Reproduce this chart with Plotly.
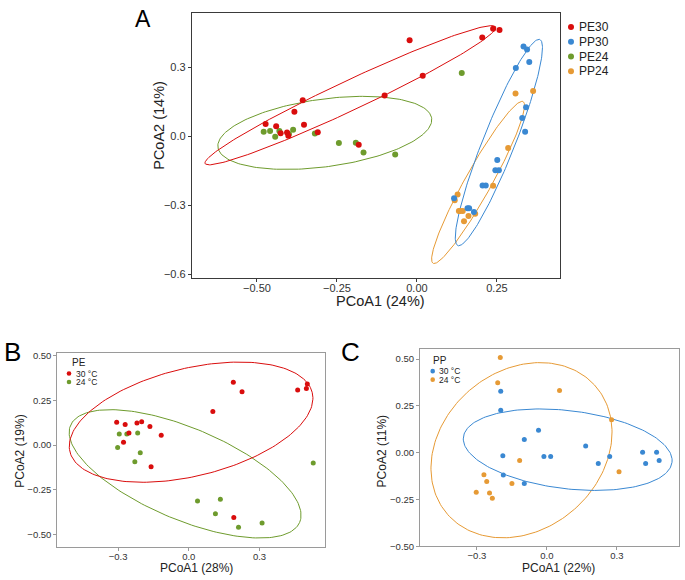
import numpy as np
import plotly.graph_objects as go

W, H = 685, 580
FONT = "Liberation Sans, Arial, sans-serif"

# ---------------- data ----------------
# Panel A
a_groups = ["PE30", "PP30", "PE24", "PP24"]
a_pe30_x = [-0.473, -0.440, -0.426, -0.406, -0.402, -0.383, -0.357, -0.353, -0.310, -0.182, -0.101, -0.023, 0.018, 0.204, 0.238, 0.258]
a_pe30_y = [0.054, 0.044, 0.014, 0.017, 0.003, 0.107, 0.157, 0.051, 0.018, -0.036, 0.178, 0.418, 0.264, 0.430, 0.468, 0.463]
a_pe24_x = [-0.479, -0.459, -0.443, -0.430, -0.400, -0.387, -0.319, -0.244, -0.191, -0.167, -0.068, 0.140]
a_pe24_y = [0.020, 0.024, -0.001, 0.024, 0.010, 0.029, 0.013, -0.029, -0.027, -0.070, -0.079, 0.276]
a_pp30_x = [0.333, 0.344, 0.351, 0.309, 0.341, 0.329, 0.338, 0.251, 0.245, 0.256, 0.205, 0.215, 0.116, 0.158, 0.163, 0.178]
a_pp30_y = [0.391, 0.378, 0.323, 0.297, 0.127, 0.080, 0.020, -0.103, -0.147, -0.147, -0.213, -0.213, -0.269, -0.312, -0.312, -0.329]
a_pp24_x = [0.308, 0.363, 0.285, 0.238, 0.127, 0.118, 0.131, 0.135, 0.143, 0.161, 0.182, 0.147]
a_pp24_y = [0.187, 0.197, -0.050, -0.214, -0.252, -0.277, -0.324, -0.324, -0.324, -0.346, -0.336, -0.369]

# Panel B (PE)
b_30_x = [-0.306, -0.270, -0.254, -0.277, -0.220, -0.200, -0.165, -0.117, -0.160, 0.102, 0.189, 0.226, 0.462, 0.499, 0.503, 0.191]
b_30_y = [0.128, 0.115, 0.068, 0.016, 0.124, 0.130, 0.104, 0.055, -0.121, 0.188, 0.350, 0.298, 0.308, 0.315, 0.341, -0.403]
b_24_x = [-0.295, -0.263, -0.217, -0.302, -0.206, -0.229, 0.528, 0.037, 0.134, 0.113, 0.211, 0.311]
b_24_y = [0.062, 0.062, 0.068, -0.013, -0.042, -0.092, -0.099, -0.312, -0.302, -0.383, -0.458, -0.434]

# Panel C (PP)
c_30_x = [-0.198, -0.198, -0.189, -0.187, -0.097, -0.036, -0.097, -0.013, 0.016, 0.166, 0.220, 0.269, 0.410, 0.470, 0.423, 0.481]
c_30_y = [0.328, 0.227, -0.016, -0.120, 0.070, 0.120, -0.165, -0.020, -0.020, 0.035, -0.058, -0.020, 0.002, 0.002, -0.058, -0.042]
c_24_x = [-0.200, -0.211, 0.054, 0.277, -0.117, 0.309, -0.270, -0.258, -0.150, -0.303, -0.246, -0.234]
c_24_y = [0.508, 0.374, 0.332, 0.176, -0.042, -0.102, -0.118, -0.154, -0.165, -0.211, -0.216, -0.244]

# Confidence ellipses: center, conjugate half-axis vectors (data units)
ell_a_pe30 = [(-0.208, 0.179), (0.454, 0.297), (0.0202, -0.058)]
ell_a_pe24 = [(-0.288, 0.0154), (0.334, 0.0634), (0.0147, -0.1456)]
ell_a_pp30 = [(0.256, -0.0266), (0.128, 0.448), (0.0466, -0.025)]
ell_a_pp24 = [(0.191, -0.200), (0.1406, 0.3515), (0.0363, -0.0272)]
ell_b_30 = [(0.0097, 0.128), (0.514, 0.166), (0.056, -0.291)]
ell_b_24 = [(-0.0157, -0.160), (0.486, -0.271), (-0.0775, -0.2335)]
ell_c_30 = [(0.089, 0.0158), (0.447, -0.0675), (-0.0207, -0.207)]
ell_c_24 = [(-0.109, 0.013), (0.3125, 0.349), (0.230, -0.312)]

temp_labels = ["30 °C", "24 °C"]
axis_titles = {"a": ("PCoA1 (24%)", "PCoA2 (14%)"),
               "b": ("PCoA1 (28%)", "PCoA2 (19%)"),
               "c": ("PCoA1 (22%)", "PCoA2 (11%)")}
a_xticks = [-0.50, -0.25, 0.00, 0.25]
a_yticks = [-0.6, -0.3, 0.0, 0.3]
bc_xticks = [-0.3, 0.0, 0.3]
bc_yticks = [-0.50, -0.25, 0.00, 0.25, 0.50]

RED, BLUE, GREEN, ORANGE = "#D90D0D", "#3A88D2", "#6E9B2D", "#E69A35"

# ---------------- helpers ----------------
def px(x):
    return x / W

def py(y):
    return 1 - y / H

def ellipse(params, n=200):
    (cx, cy), (ax, ay), (bx, by) = params
    t = np.linspace(0, 2 * np.pi, n)
    return cx + ax * np.cos(t) + bx * np.sin(t), cy + ay * np.cos(t) + by * np.sin(t)

fig = go.Figure()

def add_panel(xa, ya, series, size):
    for xs, ys, ell, col in series:
        ex, ey = ellipse(ell)
        fig.add_trace(go.Scatter(x=ex, y=ey, mode="lines", line=dict(color=col, width=1),
                                 xaxis=xa, yaxis=ya, showlegend=False, hoverinfo="skip"))
    for xs, ys, ell, col in series:
        fig.add_trace(go.Scatter(x=xs, y=ys, mode="markers", marker=dict(color=col, size=size),
                                 xaxis=xa, yaxis=ya, showlegend=False))

add_panel("x", "y", [(a_pe24_x, a_pe24_y, ell_a_pe24, GREEN),
                     (a_pe30_x, a_pe30_y, ell_a_pe30, RED),
                     (a_pp24_x, a_pp24_y, ell_a_pp24, ORANGE),
                     (a_pp30_x, a_pp30_y, ell_a_pp30, BLUE)], 6)
add_panel("x2", "y2", [(b_24_x, b_24_y, ell_b_24, GREEN),
                       (b_30_x, b_30_y, ell_b_30, RED)], 5)
add_panel("x3", "y3", [(c_24_x, c_24_y, ell_c_24, ORANGE),
                       (c_30_x, c_30_y, ell_c_30, BLUE)], 5)

def axis_style(dom, rng, ticks, fmt, linecol, lw, fsize, anchor, standoff):
    return dict(domain=dom, range=rng, tickvals=ticks, tickformat=fmt,
                showgrid=False, zeroline=False, showline=True, mirror=True,
                linecolor=linecol, linewidth=lw, ticks="outside", ticklen=3,
                tickcolor=linecol, tickwidth=1, anchor=anchor,
                ticklabelstandoff=standoff,
                tickfont=dict(family=FONT, size=fsize, color="#333333"))

# panel domains in pixels
A = (192, 560, 10, 279)
B = (57.3, 325, 355, 552)
C = (420, 679, 351, 551)

layout = dict(
    width=W, height=H, margin=dict(l=0, r=0, t=0, b=0),
    paper_bgcolor="white", plot_bgcolor="white", showlegend=False,
    font=dict(family=FONT),
    xaxis=axis_style([px(A[0]), px(A[1])], [-0.703, 0.447], a_xticks, ".2f", "#3a3a3a", 1.3, 11, "y", -4),
    yaxis=axis_style([py(A[3]), py(A[2])], [-0.616, 0.537], a_yticks, ".1f", "#3a3a3a", 1.3, 11, "x", 0),
    xaxis2=axis_style([px(B[0]), px(B[1])], [-0.558, 0.578], bc_xticks, ".1f", "#9a9a9a", 1, 9.5, "y2", -3),
    yaxis2=axis_style([py(B[3]), py(B[2])], [-0.570, 0.513], bc_yticks, ".2f", "#9a9a9a", 1, 9.5, "x2", 0),
    xaxis3=axis_style([px(C[0]), px(C[1])], [-0.544, 0.566], bc_xticks, ".1f", "#9a9a9a", 1, 9.5, "y3", -3),
    yaxis3=axis_style([py(C[3]), py(C[2])], [-0.501, 0.553], bc_yticks, ".2f", "#9a9a9a", 1, 9.5, "x3", 0),
)
fig.update_layout(**layout)

ann = []
shapes = []

def text(x, y, s, size, xanchor="center", angle=0, color="#222222"):
    ann.append(dict(x=px(x), y=py(y), xref="paper", yref="paper", text=s, showarrow=False,
                    xanchor=xanchor, yanchor="middle", textangle=angle, borderpad=0,
                    font=dict(family=FONT, size=size, color=color)))

def dot(x, y, col, r):
    shapes.append(dict(type="circle", xref="paper", yref="paper", xsizemode="pixel", ysizemode="pixel",
                       xanchor=px(x), yanchor=py(y), x0=-r, x1=r, y0=-r, y1=r,
                       fillcolor=col, line=dict(width=0)))

# panel letters
text(143, 16, "A", 23, color="#000000")
text(12, 354, "B", 26, color="#000000")
text(350, 354, "C", 26, color="#000000")

# axis titles
text(380.5, 302, axis_titles["a"][0], 14.5)
text(159.5, 124, axis_titles["a"][1], 14.5, angle=-90)
text(196.5, 573, axis_titles["b"][0], 12)
text(20, 455, axis_titles["b"][1], 12, angle=-90)
text(558, 573, axis_titles["c"][0], 12)
text(381.7, 455, axis_titles["c"][1], 12, angle=-90)

# legend A
for i, (g, col) in enumerate(zip(a_groups, [RED, BLUE, GREEN, ORANGE])):
    yy = 24.3 + i * 15
    dot(571, yy, col, 3)
    text(578, yy, g, 12, xanchor="left")

# legend B
text(71, 364.5, "PE", 10, xanchor="left")
for i, (lab, col) in enumerate(zip(temp_labels, [RED, GREEN])):
    yy = 375.7 + i * 8.6
    dot(69, yy, col, 2.3)
    text(74.5, yy, lab, 8.5, xanchor="left")

# legend C
text(432.5, 363, "PP", 10, xanchor="left")
for i, (lab, col) in enumerate(zip(temp_labels, [BLUE, ORANGE])):
    yy = 373.3 + i * 8.6
    dot(432.7, yy, col, 2.3)
    text(438, yy, lab, 8.5, xanchor="left")

fig.update_layout(annotations=ann, shapes=shapes)
fig.write_html("out.html", config={"displayModeBar": False},
               post_script="document.body.style.margin='0';document.body.style.overflow='hidden';")
